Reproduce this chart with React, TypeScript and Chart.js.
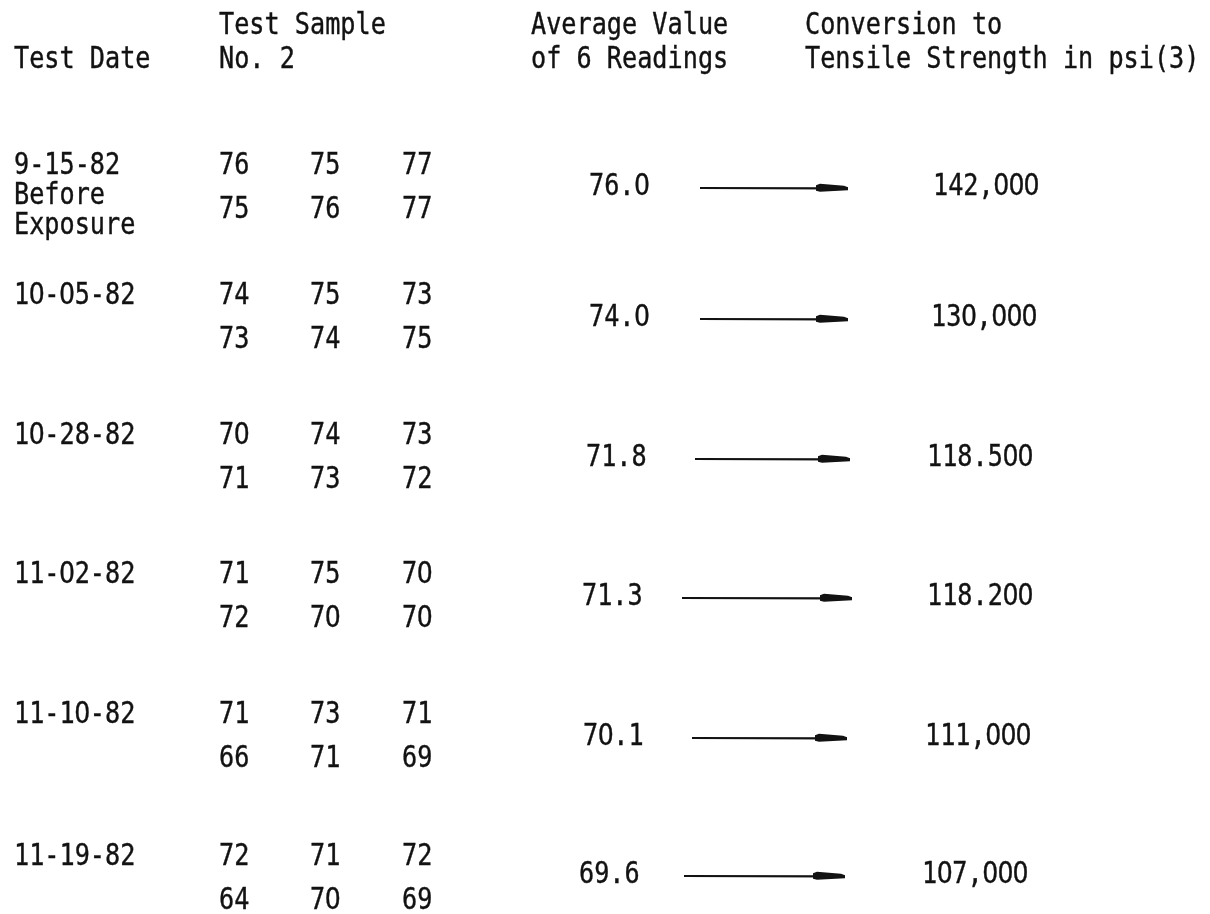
import React, { useEffect, useRef } from "react";
import { Chart, registerables } from "chart.js";

Chart.register(...registerables);

// ---------- data ----------
const headerDate = ["Test Date"];
const headerSample = ["Test Sample", "No. 2"];
const headerAverage = ["Average Value", "of 6 Readings"];
const headerTensile = ["Conversion to", "Tensile Strength in psi(3)"];

const testDates = ["9-15-82", "10-05-82", "10-28-82", "11-02-82", "11-10-82", "11-19-82"];
const dateNotes = [["Before", "Exposure"], [], [], [], [], []];
const readingsTop = [
  [76, 75, 77],
  [74, 75, 73],
  [70, 74, 73],
  [71, 75, 70],
  [71, 73, 71],
  [72, 71, 72],
];
const readingsBottom = [
  [75, 76, 77],
  [73, 74, 75],
  [71, 73, 72],
  [72, 70, 70],
  [66, 71, 69],
  [64, 70, 69],
];
const averages = [76.0, 74.0, 71.8, 71.3, 70.1, 69.6];
const tensileLabels = ["142,000", "130,000", "118.500", "118.200", "111,000", "107,000"];

// ---------- layout (positions / styles only) ----------
const W = 1210;
const H = 914;
const LAYOUT = {
  dateX: 14,
  readingX: [219, 310, 402],
  headSampleX: 219,
  headAvgX: 531,
  headTensileX: 805,
  headY: [26, 60],
  rowY: [166, 296, 436, 575, 715, 857],
  secondLine: 44,
  noteLine: 30,
  avgDy: [21, 22, 22, 22, 22, 18],
  avgX: [589, 589, 586, 582, 583, 579],
  arrowX: [
    [700, 848],
    [700, 848],
    [695, 850],
    [682, 852],
    [692, 847],
    [684, 845],
  ],
  tensileX: [933, 931, 927, 927, 925, 922],
};
const FONT_MONO = "30px 'DejaVu Sans Mono'";
const FONT_ZERO = "30px 'DejaVu Sans'";
const SQUEEZE = 0.84;
const INK = "#121212";

const tablePlugin = {
  id: "typedTable",
  afterDatasetsDraw(chart: any) {
    const ctx = chart.ctx as CanvasRenderingContext2D;
    const xs = chart.scales.x;
    const ys = chart.scales.y;
    ctx.save();
    ctx.fillStyle = INK;
    ctx.strokeStyle = INK;
    ctx.lineWidth = 0.4;
    ctx.textBaseline = "middle";
    ctx.textAlign = "left";
    ctx.font = FONT_MONO;
    const pitch = ctx.measureText("M").width * SQUEEZE;

    // typewriter-style text: every character in a fixed-pitch cell
    const text = (s: string, x: number, y: number) => {
      const px = xs.getPixelForValue(x);
      const py = ys.getPixelForValue(y);
      Array.from(s).forEach((ch, i) => {
        if (ch === " ") return;
        ctx.font = ch === "0" ? FONT_ZERO : FONT_MONO;
        const w = ctx.measureText(ch).width * SQUEEZE;
        const cx = px + i * pitch + (pitch - w) / 2;
        ctx.save();
        ctx.translate(cx, py);
        ctx.scale(SQUEEZE, 1);
        ctx.fillText(ch, 0, 0);
        ctx.strokeText(ch, 0, 0);
        ctx.restore();
      });
    };

    // headers
    headerDate.forEach((s) => text(s, LAYOUT.dateX, LAYOUT.headY[1]));
    headerSample.forEach((s, i) => text(s, LAYOUT.headSampleX, LAYOUT.headY[i]));
    headerAverage.forEach((s, i) => text(s, LAYOUT.headAvgX, LAYOUT.headY[i]));
    headerTensile.forEach((s, i) => text(s, LAYOUT.headTensileX, LAYOUT.headY[i]));

    testDates.forEach((d, r) => {
      const y0 = LAYOUT.rowY[r];
      text(d, LAYOUT.dateX, y0);
      dateNotes[r].forEach((n, k) => text(n, LAYOUT.dateX, y0 + LAYOUT.noteLine * (k + 1)));
      readingsTop[r].forEach((v, c) => text(String(v), LAYOUT.readingX[c], y0));
      readingsBottom[r].forEach((v, c) =>
        text(String(v), LAYOUT.readingX[c], y0 + LAYOUT.secondLine)
      );
      const ya = y0 + LAYOUT.avgDy[r];
      text(averages[r].toFixed(1), LAYOUT.avgX[r], ya);
      text(tensileLabels[r], LAYOUT.tensileX[r], ya);
    });

    // arrow heads at the end of each arrow dataset
    chart.data.datasets.forEach((_ds: any, i: number) => {
      const meta = chart.getDatasetMeta(i);
      const pts = meta.data;
      if (!pts || pts.length < 2) return;
      const end = pts[pts.length - 1];
      const ex = end.x;
      const ey = end.y;
      ctx.beginPath();
      ctx.moveTo(ex - 32, ey - 3);
      ctx.lineTo(ex - 28, ey - 4.5);
      ctx.lineTo(ex - 4, ey - 2.5);
      ctx.lineTo(ex, ey - 1);
      ctx.lineTo(ex, ey + 2);
      ctx.lineTo(ex - 28, ey + 3.5);
      ctx.lineTo(ex - 32, ey + 2.5);
      ctx.closePath();
      ctx.fill();
    });
    ctx.restore();
  },
};

export default function App() {
  const ref = useRef<HTMLCanvasElement | null>(null);
  useEffect(() => {
    if (!ref.current) return;
    const datasets = averages.map((_a, r) => {
      const y = LAYOUT.rowY[r] + LAYOUT.avgDy[r] + 1;
      return {
        label: `arrow-${r}`,
        data: [
          { x: LAYOUT.arrowX[r][0], y },
          { x: LAYOUT.arrowX[r][1] - 20, y: y + 0.3 },
          { x: LAYOUT.arrowX[r][1], y: y + 0.3 },
        ],
        borderColor: INK,
        borderWidth: 2.2,
        pointRadius: 0,
        fill: false,
      };
    });
    const chart = new Chart(ref.current, {
      type: "line",
      data: { datasets },
      options: {
        animation: false,
        responsive: false,
        devicePixelRatio: 1,
        layout: { padding: 0 },
        plugins: { legend: { display: false }, tooltip: { enabled: false } },
        scales: {
          x: { type: "linear", min: 0, max: W, display: false },
          y: { type: "linear", min: 0, max: H, reverse: true, display: false },
        },
      },
      plugins: [tablePlugin],
    });
    return () => chart.destroy();
  }, []);
  return (
    <div style={{ position: "absolute", left: 0, top: 0, width: W, height: H, background: "#fff" }}>
      <canvas ref={ref} width={W} height={H} style={{ display: "block" }} />
    </div>
  );
}
